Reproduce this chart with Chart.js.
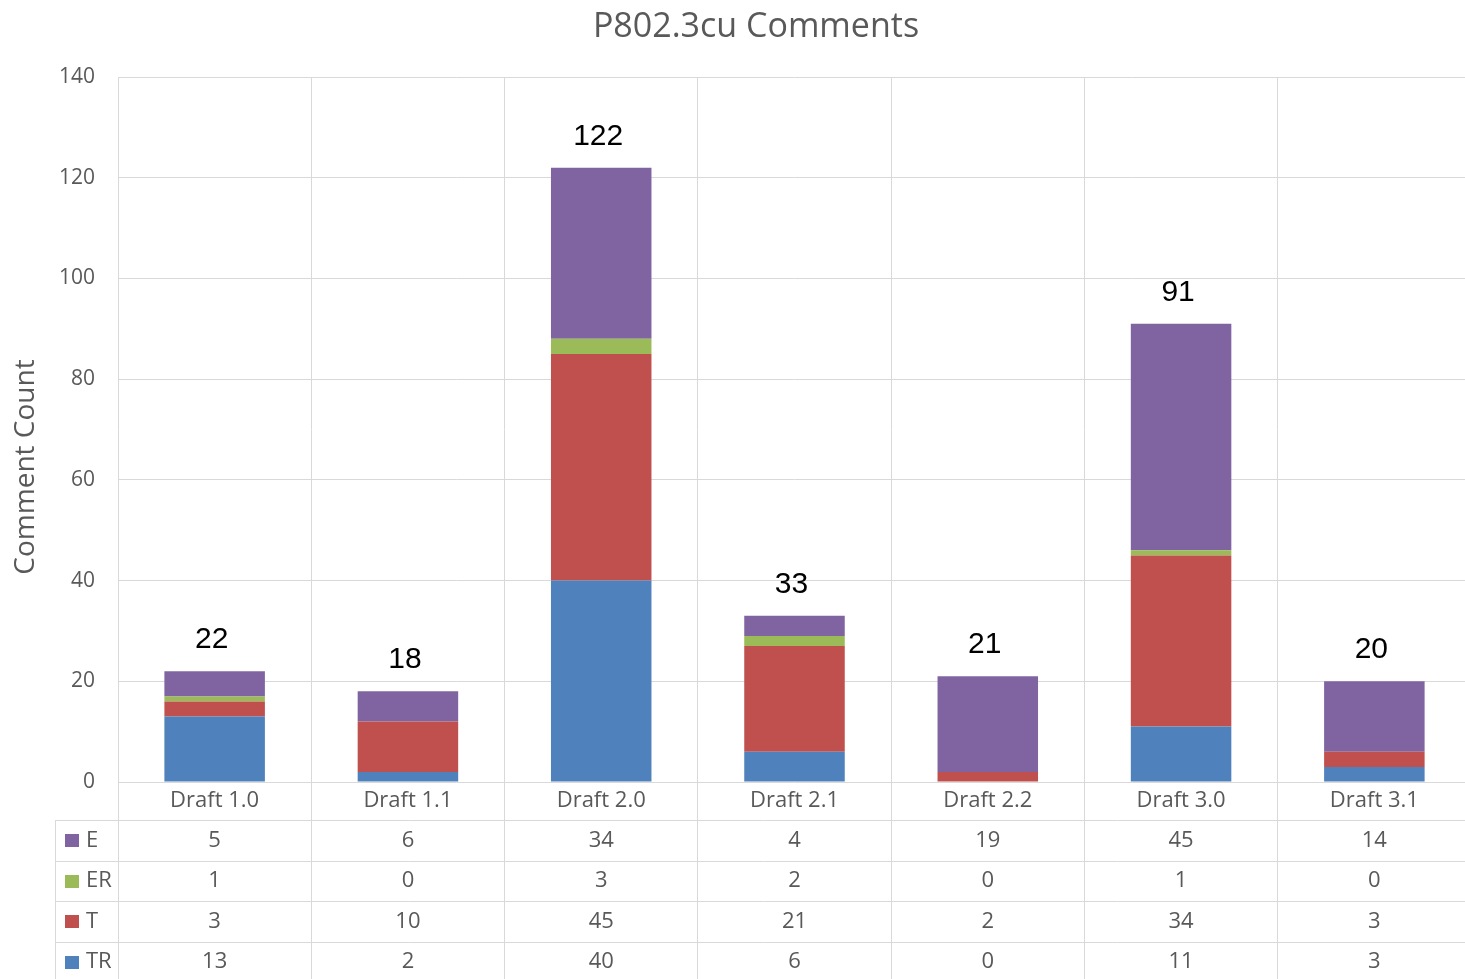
<!DOCTYPE html>
<html>
<head>
<meta charset="utf-8">
<script src="https://cdn.jsdelivr.net/npm/chart.js@4.4.0/dist/chart.umd.min.js"></script>
<style>
  html, body { margin: 0; padding: 0; background: #fff; overflow: hidden; }
  canvas { display: block; }
</style>
</head>
<body>
<canvas id="chart" width="1472" height="979"></canvas>
<script>
// data
const categories = ["Draft 1.0", "Draft 1.1", "Draft 2.0", "Draft 2.1", "Draft 2.2", "Draft 3.0", "Draft 3.1"];
const seriesE  = [5, 6, 34, 4, 19, 45, 14];
const seriesER = [1, 0, 3, 2, 0, 1, 0];
const seriesT  = [3, 10, 45, 21, 2, 34, 3];
const seriesTR = [13, 2, 40, 6, 0, 11, 3];
const yTicks = [0, 20, 40, 60, 80, 100, 120, 140];
const chartTitle = "P802.3cu Comments";
const yAxisTitle = "Comment Count";

const COLORS = { E: "#8064A2", ER: "#9BBB59", T: "#C0504D", TR: "#4F81BD" };
const GRID = "#d9d9d9";
const TEXT = "#595959";
const FONT = "'Open Sans', 'Noto Sans', sans-serif";

// bottom to top in the stack
const datasets = [
  { label: "TR", data: seriesTR, backgroundColor: COLORS.TR },
  { label: "T",  data: seriesT,  backgroundColor: COLORS.T },
  { label: "ER", data: seriesER, backgroundColor: COLORS.ER },
  { label: "E",  data: seriesE,  backgroundColor: COLORS.E },
];
// table rows, top to bottom
const tableRows = [
  { label: "E", data: seriesE },
  { label: "ER", data: seriesER },
  { label: "T", data: seriesT },
  { label: "TR", data: seriesTR },
];

// totals above the bars + title + data table under the axis
const extras = {
  id: "extras",
  afterDraw(chart) {
    const { ctx, chartArea } = chart;
    const x = chart.scales.x, y = chart.scales.y;
    const right = chart.width;
    ctx.save();

    // title
    ctx.fillStyle = TEXT;
    ctx.font = "34px " + FONT;
    ctx.textAlign = "center";
    ctx.textBaseline = "alphabetic";
    ctx.fillText(chartTitle, 756, 37);

    // y axis title
    ctx.save();
    ctx.translate(26, 467);
    ctx.rotate(-Math.PI / 2);
    ctx.font = "28px " + FONT;
    ctx.textBaseline = "middle";
    ctx.fillText(yAxisTitle, 0, 0);
    ctx.restore();

    // totals
    ctx.fillStyle = "#000";
    ctx.font = "30px 'Liberation Sans', Arial, sans-serif";
    categories.forEach((c, i) => {
      const total = datasets.reduce((s, d) => s + d.data[i], 0);
      ctx.fillText(String(total), x.getPixelForValue(i) - 3, y.getPixelForValue(total) - 23);
    });

    // table lines
    const rowTop = chartArea.bottom + 38;
    const rowH = 40.5;
    ctx.strokeStyle = GRID;
    ctx.lineWidth = 1;
    ctx.beginPath();
    for (let r = 0; r < tableRows.length; r++) {
      const yy = Math.round(rowTop + r * rowH) + 0.5;
      ctx.moveTo(55, yy);
      ctx.lineTo(right, yy);
    }
    ctx.moveTo(55.5, rowTop);
    ctx.lineTo(55.5, chart.height);
    ctx.stroke();

    // category labels
    ctx.fillStyle = TEXT;
    ctx.font = "22px " + FONT;
    ctx.textBaseline = "middle";
    categories.forEach((c, i) => {
      ctx.fillText(c, x.getPixelForValue(i), chartArea.bottom + 19);
    });

    // rows
    tableRows.forEach((row, r) => {
      const cy = rowTop + r * rowH + rowH / 2;
      ctx.fillStyle = COLORS[row.label];
      ctx.fillRect(65, Math.round(cy - 6), 14, 13);
      ctx.fillStyle = TEXT;
      ctx.textAlign = "left";
      ctx.fillText(row.label, 86, cy);
      ctx.textAlign = "center";
      row.data.forEach((v, i) => {
        ctx.fillText(String(v), x.getPixelForValue(i), cy);
      });
    });
    ctx.restore();
  }
};

new Chart(document.getElementById("chart"), {
  type: "bar",
  data: { labels: categories, datasets },
  options: {
    responsive: false,
    animation: false,
    layout: { padding: { top: 77, right: 1, left: 0, bottom: 0 } },
    plugins: {
      legend: { display: false },
      title: { display: false },
      tooltip: { enabled: false },
    },
    datasets: { bar: { categoryPercentage: 1, barPercentage: 0.52 } },
    scales: {
      x: {
        stacked: true,
        offset: true,
        grid: { offset: true, color: GRID, drawTicks: true, tickLength: 197 },
        border: { display: false },
        ticks: { display: false },
        afterFit: (s) => { s.height = 197; },
      },
      y: {
        stacked: true,
        min: 0,
        max: 140,
        afterBuildTicks: (s) => { s.ticks = yTicks.map(v => ({ value: v })); },
        grid: { color: GRID, drawTicks: false },
        border: { display: false },
        ticks: { color: TEXT, font: { family: FONT, size: 21 }, padding: 23 },
        afterFit: (s) => { s.width = 118; },
      },
    },
  },
  plugins: [extras],
});
</script>
</body>
</html>
